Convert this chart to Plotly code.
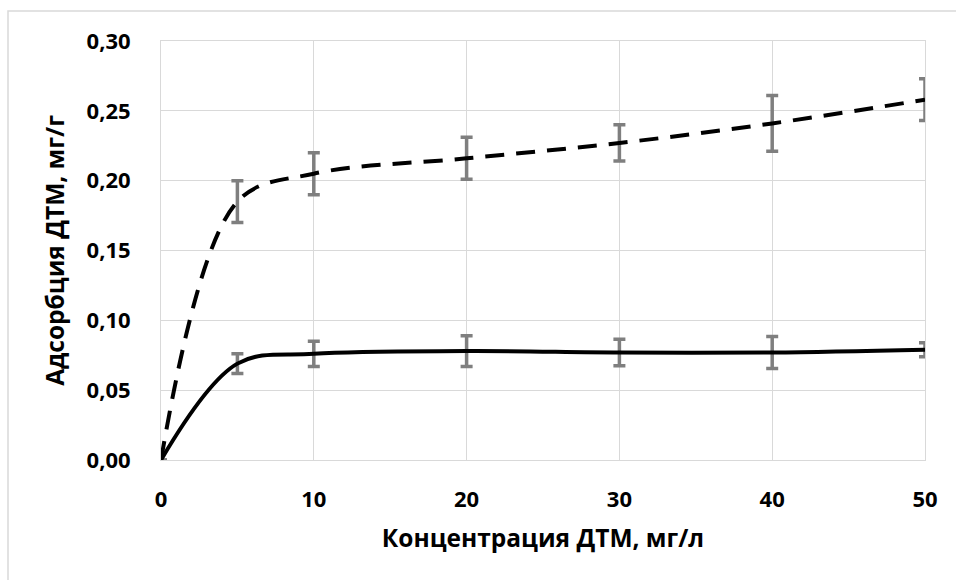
import plotly.graph_objects as go

# Concentration of DTM in solution, mg/l
concentration = [0, 5, 10, 20, 30, 40, 50]

# Adsorption of DTM, mg/g, with symmetric error half-widths
adsorption_high = [0, 0.185, 0.205, 0.216, 0.227, 0.241, 0.258]
error_high = [0, 0.015, 0.015, 0.015, 0.013, 0.020, 0.015]

adsorption_low = [0, 0.069, 0.076, 0.078, 0.077, 0.077, 0.079]
error_low = [0, 0.007, 0.009, 0.011, 0.0095, 0.0115, 0.005]

x_ticks = [0, 10, 20, 30, 40, 50]
y_ticks = [0, 0.05, 0.10, 0.15, 0.20, 0.25, 0.30]

FONT = "Open Sans"
GRID = "#d9d9d9"
ERR = "#7f7f7f"

fig = go.Figure()

fig.add_trace(go.Scatter(
    x=concentration, y=adsorption_high, mode="lines",
    line=dict(color="black", width=4, dash="19px,12px", shape="spline", smoothing=1),
    error_y=dict(type="data", array=error_high, color=ERR, thickness=3.5, width=6),
    showlegend=False,
))
fig.add_trace(go.Scatter(
    x=concentration, y=adsorption_low, mode="lines",
    line=dict(color="black", width=4, shape="spline", smoothing=1),
    error_y=dict(type="data", array=error_low, color=ERR, thickness=3.5, width=6),
    showlegend=False,
))

L, R, T, B = 161, 31, 41, 120
W, H = 956, 580
pw, ph = W - L - R, H - T - B

# light outer chart frame
fig.add_shape(
    type="rect", xref="paper", yref="paper",
    x0=(8 - L) / pw, x1=(W + 20 - L) / pw,
    y0=-(H + 20 - (H - B)) / ph, y1=((H - B) - 11) / ph,
    line=dict(color=GRID, width=1.5), fillcolor="rgba(0,0,0,0)", layer="below",
)

fig.update_layout(
    width=W, height=H,
    margin=dict(l=L, r=R, t=T, b=B),
    paper_bgcolor="white", plot_bgcolor="white",
    separators=", ",
    font=dict(family=FONT, color="black"),
    xaxis=dict(
        range=[0, 50], tickvals=x_ticks,
        showgrid=True, gridcolor=GRID, gridwidth=1,
        showline=True, linecolor=GRID, linewidth=1, mirror=True,
        zeroline=False, ticks="", ticklabelstandoff=20,
        tickfont=dict(family=FONT, size=22, color="black", weight="bold"),
        title=dict(text="Концентрация ДТМ, мг/л", standoff=17,
                   font=dict(family=FONT, size=24.5, color="black", weight="bold")),
    ),
    yaxis=dict(
        range=[0, 0.30], tickvals=y_ticks, tickformat=".2f",
        showgrid=True, gridcolor=GRID, gridwidth=1,
        showline=True, linecolor=GRID, linewidth=1, mirror=True,
        zeroline=False, ticks="", ticklabelstandoff=25,
        tickfont=dict(family=FONT, size=22, color="black", weight="bold"),
        title=dict(text="Адсорбция ДТМ, мг/г", standoff=15,
                   font=dict(family=FONT, size=24.5, color="black", weight="bold")),
    ),
)

fig.write_html("out.html")
